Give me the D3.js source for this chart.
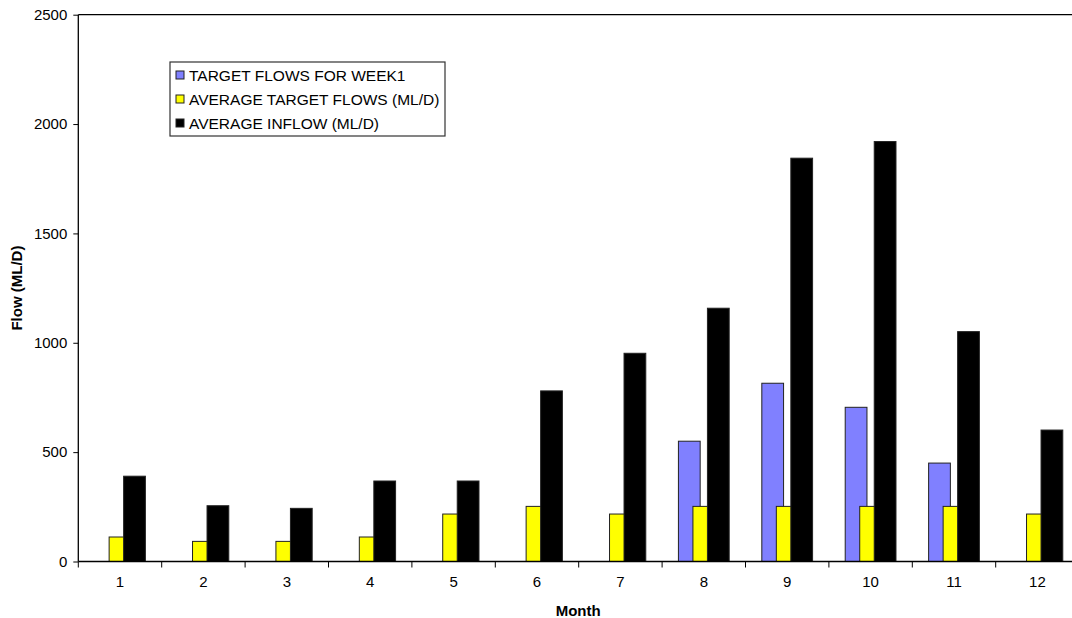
<!DOCTYPE html>
<html>
<head>
<meta charset="utf-8">
<script src="https://cdn.jsdelivr.net/npm/d3@7"></script>
<style>
  html, body { margin: 0; padding: 0; background: #fff; }
  svg { display: block; font-family: "Liberation Sans", Arial, sans-serif; }
</style>
</head>
<body>
<svg id="chart" width="1072" height="618"></svg>
<script>
const months = ["1","2","3","4","5","6","7","8","9","10","11","12"];
const targetWeek1 = [null, null, null, null, null, null, null, 550, 815, 705, 450, null];
const avgTarget = [112, 92, 92, 112, 217, 252, 217, 252, 252, 252, 252, 217];
const avgInflow = [390, 255, 243, 368, 368, 780, 952, 1158, 1844, 1920, 1051, 601];
const yTicks = [0, 500, 1000, 1500, 2000, 2500];
const seriesNames = ["TARGET FLOWS FOR WEEK1", "AVERAGE TARGET FLOWS (ML/D)", "AVERAGE INFLOW (ML/D)"];
const seriesColors = ["#8080FF", "#FFFF00", "#000000"];

(function () {
const series = [targetWeek1, avgTarget, avgInflow];

const svg = d3.select("#chart");
const pLeft = 78.3, pTop = 14.7, pBottom = 561.5;
const catW = 83.4;
const pRight = pLeft + catW * months.length;

const x = d3.scaleBand().domain(months).range([pLeft, pRight]).padding(0);
const y = d3.scaleLinear().domain([0, 2500]).range([pBottom, pTop]);

// Excel-like bar layout: gap width 150%, overlap 33%
const gapRatio = 1.5, overlap = 0.333, n = series.length;
const barW = x.bandwidth() / (gapRatio + 1 + (n - 1) * (1 - overlap));
const step = barW * (1 - overlap);
const groupW = barW + (n - 1) * step;

// plot top border
svg.append("line").attr("x1", pLeft).attr("x2", pRight).attr("y1", y(2500)).attr("y2", y(2500))
  .attr("stroke", "#000").attr("stroke-width", 1.3);

// bars
series.forEach((vals, si) => {
  svg.append("g").selectAll("rect")
    .data(vals.map((v, i) => ({v, m: months[i]})).filter(d => d.v != null))
    .join("rect")
    .attr("x", d => x(d.m) + (x.bandwidth() - groupW) / 2 + si * step)
    .attr("y", d => y(d.v))
    .attr("width", barW)
    .attr("height", d => y(0) - y(d.v))
    .attr("fill", seriesColors[si])
    .attr("stroke", "#222")
    .attr("stroke-width", 1);
});

// y axis
const yAxis = svg.append("g").attr("transform", `translate(${pLeft},0)`)
  .call(d3.axisLeft(y).tickValues(yTicks).tickSize(5).tickPadding(6).tickFormat(d3.format("d")));
yAxis.select(".domain").attr("stroke", "#000").attr("stroke-width", 1.3).attr("d", `M0,${pTop}V${pBottom}`);
yAxis.selectAll(".tick line").attr("stroke", "#000");
yAxis.selectAll("text").attr("font-size", 15).attr("fill", "#000")
  .attr("font-family", "Liberation Sans, Arial, sans-serif");

// x axis
const xAxis = svg.append("g").attr("transform", `translate(0,${pBottom})`)
  .call(d3.axisBottom(x).tickSize(0).tickPadding(15));
xAxis.select(".domain").attr("stroke", "#000").attr("stroke-width", 1.3).attr("d", `M${pLeft},0H${pRight}`);
xAxis.selectAll("text").attr("font-size", 15).attr("fill", "#000")
  .attr("font-family", "Liberation Sans, Arial, sans-serif");
// boundary ticks between categories
const boundaries = months.map(m => x(m)).concat([pRight]);
xAxis.selectAll(".btick").data(boundaries).join("line").attr("class", "btick")
  .attr("x1", d => d).attr("x2", d => d).attr("y1", 0).attr("y2", 6).attr("stroke", "#000");

// axis titles
svg.append("text").attr("x", (pLeft + 1078) / 2).attr("y", 616)
  .attr("text-anchor", "middle").attr("font-size", 15).attr("font-weight", "bold").text("Month");
svg.append("text").attr("transform", `translate(22,${(pTop + pBottom) / 2}) rotate(-90)`)
  .attr("text-anchor", "middle").attr("font-size", 15).attr("font-weight", "bold").text("Flow (ML/D)");

// legend
const lg = svg.append("g");
lg.append("rect").attr("x", 170).attr("y", 62).attr("width", 275).attr("height", 74)
  .attr("fill", "#fff").attr("stroke", "#333").attr("stroke-width", 1.2);
seriesNames.forEach((name, i) => {
  const cy = 75 + i * 24;
  lg.append("rect").attr("x", 176).attr("y", cy - 4).attr("width", 8).attr("height", 8)
    .attr("fill", seriesColors[i]).attr("stroke", "#222").attr("stroke-width", 1);
  lg.append("text").attr("x", 189).attr("y", cy).attr("dy", "0.36em")
    .attr("font-size", 15.5).text(name);
});
})();
</script>
</body>
</html>
